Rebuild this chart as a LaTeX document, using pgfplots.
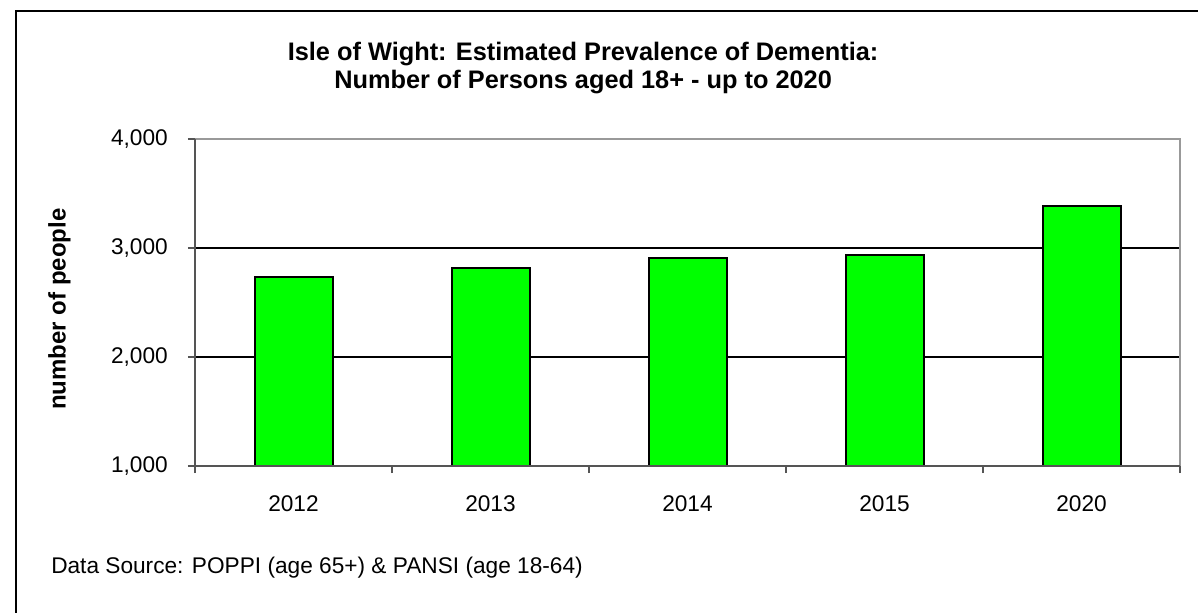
\documentclass[border=0pt]{standalone}
\usepackage{pgfplots}
\pgfplotsset{compat=1.18}
\usepackage{fontspec}
\setmainfont{Liberation Sans}
\definecolor{barGreen}{HTML}{00FF00}
\definecolor{frameGray}{HTML}{999999}
\definecolor{axisDark}{HTML}{555555}
\begin{document}
\begin{tikzpicture}
\useasboundingbox (0pt,0pt) rectangle (898.5pt,-459.75pt);
% outer chart frame
\draw[black, line width=1.6pt] (12pt,-470pt) -- (12pt,-8pt) -- (905pt,-8pt);
\begin{axis}[
  at={(146.25pt,-104.25pt)}, anchor=north west,
  scale only axis, width=738.75pt, height=245.25pt,
  xmin=-0.5, xmax=4.5, ymin=1000, ymax=4000,
  axis line style={draw=none},
  tick align=outside,
  xtick pos=bottom, ytick pos=left,
  major tick length=5.25pt,
  tick style={axisDark, line width=0.9pt},
  xtick={-0.5,0.5,1.5,2.5,3.5,4.5},
  xticklabels={},
  extra x ticks={0,1,2,3,4},
  extra x tick labels={2012,2013,2014,2015,2020},
  extra x tick style={major tick length=0pt},
  ytick={2000,3000},
  extra y ticks={1000,4000},
  extra y tick style={grid=none},
  ymajorgrids,
  grid style={black, line width=0.8pt},
  scaled y ticks=false,
  yticklabel style={/pgf/number format/1000 sep={,}},
  /pgf/number format/assume math mode=true,
  every tick label/.append style={font=\fontsize{17}{19}\selectfont, inner sep=0pt},
  xticklabel style={anchor=center, yshift=-28.5pt},
  yticklabel style={anchor=east, xshift=-15pt},
  title={Isle of Wight: Estimated Prevalence of Dementia:\\Number of Persons aged 18+ - up to 2020},
  title style={at={(rel axis cs:0.394,1)}, anchor=center, yshift=47.5pt, align=center,
    font=\fontsize{19}{21}\selectfont\bfseries},
  ylabel={number of people},
  every axis y label/.style={at={(rel axis cs:0,0.48)}, xshift=-101.6pt, rotate=90,
    anchor=center, font=\fontsize{18}{20}\selectfont\bfseries},
  clip=false,
]
\addplot[ybar, bar width=58.5pt, fill=barGreen, draw=black, line width=1.5pt]
  coordinates {(0,2736) (1,2818) (2,2907) (3,2935) (4,3385)};
\draw[frameGray, line width=1.5pt] (rel axis cs:0,1) -- (rel axis cs:1,1) -- (rel axis cs:1,0);
\draw[axisDark, line width=1.5pt] (rel axis cs:0,1) -- (rel axis cs:0,0) -- (rel axis cs:1,0);
\end{axis}
\node[anchor=west, inner sep=0pt, font=\fontsize{17}{19}\selectfont] at (38.25pt,-426pt)
  {Data Source: POPPI (age 65+) \& PANSI (age 18-64)};
\end{tikzpicture}
\end{document}
